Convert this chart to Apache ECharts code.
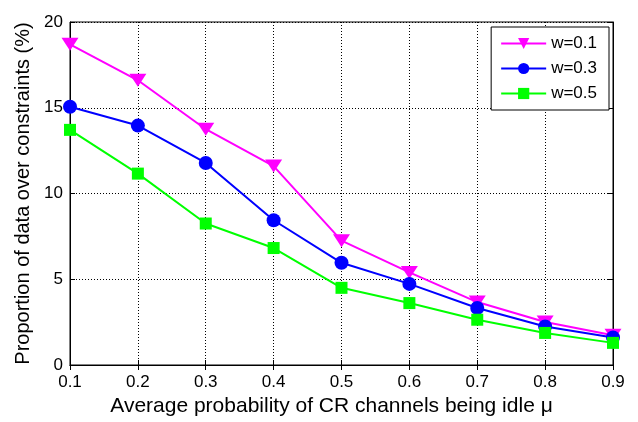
<!DOCTYPE html>
<html>
<head>
<meta charset="utf-8">
<script src="https://cdn.jsdelivr.net/npm/echarts@6/dist/echarts.min.js"></script>
<style>html,body{margin:0;padding:0;background:#fff}#c{width:638px;height:422px}</style>
</head>
<body>
<div id="c"></div>
<script>
const categories = [0.1, 0.2, 0.3, 0.4, 0.5, 0.6, 0.7, 0.8, 0.9];
const w01 = [18.7, 16.6, 13.75, 11.6, 7.25, 5.4, 3.67, 2.51, 1.73];
const w03 = [15.06, 13.96, 11.78, 8.44, 5.96, 4.73, 3.32, 2.25, 1.6];
const w05 = [13.71, 11.16, 8.25, 6.82, 4.5, 3.61, 2.64, 1.87, 1.29];
const seriesNames = ['w=0.1', 'w=0.3', 'w=0.5'];
const yTicks = [0, 5, 10, 15, 20];
const xTickLabels = ['0.1','0.2','0.3','0.4','0.5','0.6','0.7','0.8','0.9'];

const font = 'Liberation Sans, Arial, sans-serif';
const chart = echarts.init(document.getElementById('c'));
const pairs = arr => arr.map((v, i) => [categories[i], v]);
const mk = (name, data, color, symbol, size) => ({
  name, type: 'line', data: pairs(data),
  symbol, symbolSize: size,
  showAllSymbol: true,
  lineStyle: { color, width: 2 },
  itemStyle: { color },
  emphasis: { disabled: true },
  animation: false
});
const gridLine = { show: true, lineStyle: { color: '#000', type: [1, 2], width: 1 } };
chart.setOption({
  animation: false,
  backgroundColor: '#fff',
  grid: { left: 70, right: 25, top: 22, bottom: 56, show: true, borderColor: '#000', borderWidth: 1, backgroundColor: 'transparent' },
  legend: {
    data: seriesNames,
    orient: 'vertical',
    right: 29, top: 27,
    backgroundColor: '#fff',
    borderColor: '#000', borderWidth: 1,
    padding: [8, 12, 8, 9],
    itemGap: 8,
    itemWidth: 45, itemHeight: 14,
    textStyle: { fontFamily: font, fontSize: 17, color: '#000' }
  },
  xAxis: [{
    type: 'value', min: 0.1, max: 0.9, interval: 0.1,
    axisLine: { show: true, lineStyle: { color: '#000' } },
    axisTick: { show: true, inside: true, length: 5, lineStyle: { color: '#000' } },
    axisLabel: { color: '#000', fontFamily: font, fontSize: 17, margin: 9,
      formatter: (v) => { const i = Math.round((v - 0.1) * 10); return xTickLabels[i] !== undefined ? xTickLabels[i] : ''; } },
    splitLine: gridLine,
    name: 'Average probability of CR channels being idle \u03bc',
    nameLocation: 'middle', nameGap: 31,
    nameTextStyle: { color: '#000', fontFamily: font, fontSize: 21, padding: [0, 20, 0, 0] }
  }, {
    type: 'value', position: 'top', min: 0.1, max: 0.9, interval: 0.1,
    axisLine: { show: true, lineStyle: { color: '#000' } },
    axisTick: { show: true, inside: true, length: 5, lineStyle: { color: '#000' } },
    axisLabel: { show: false }, splitLine: { show: false }
  }],
  yAxis: [{
    type: 'value', min: 0, max: 20, interval: 5,
    axisLine: { show: true, lineStyle: { color: '#000' } },
    axisTick: { show: true, inside: true, length: 5, lineStyle: { color: '#000' } },
    axisLabel: { color: '#000', fontFamily: font, fontSize: 17, margin: 7,
      formatter: v => yTicks.includes(v) ? String(v) : '' },
    splitLine: gridLine,
    name: 'Proportion of data over constraints (%)',
    nameLocation: 'middle', nameGap: 36,
    nameTextStyle: { color: '#000', fontFamily: font, fontSize: 20 }
  }, {
    type: 'value', position: 'right', min: 0, max: 20, interval: 5,
    axisLine: { show: true, lineStyle: { color: '#000' } },
    axisTick: { show: true, inside: true, length: 5, lineStyle: { color: '#000' } },
    axisLabel: { show: false }, splitLine: { show: false }
  }],
  series: [
    mk(seriesNames[0], w01, '#ff00ff', 'path://M0,0 L10,0 L5,8 Z', [17, 13]),
    mk(seriesNames[1], w03, '#0000ff', 'circle', 14),
    mk(seriesNames[2], w05, '#00ff00', 'rect', 12)
  ]
});
</script>
</body>
</html>
